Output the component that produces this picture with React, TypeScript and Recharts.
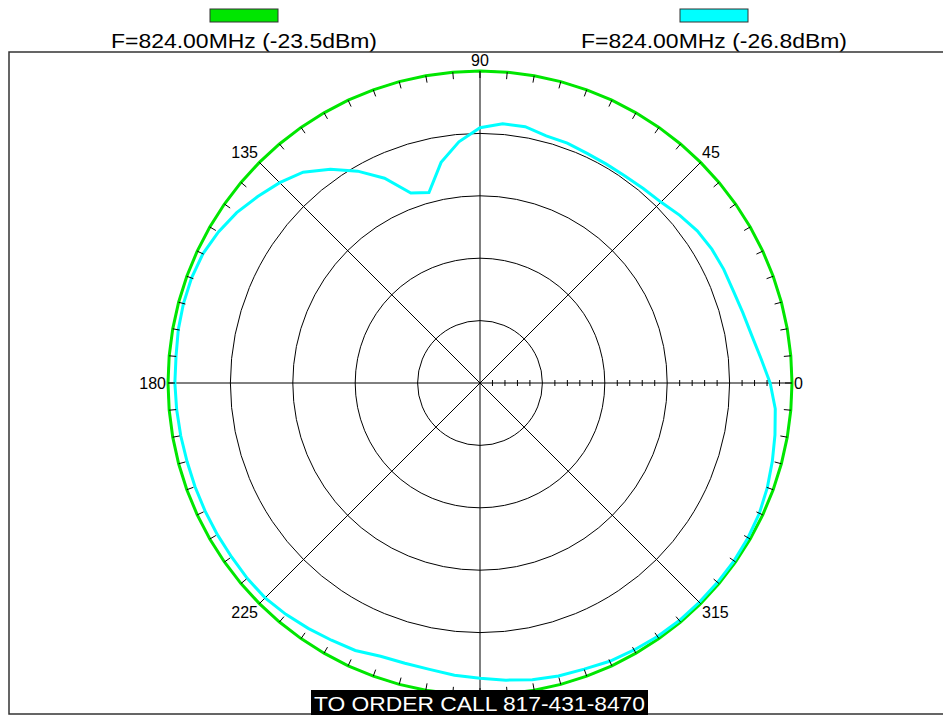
import {Legend, PolarAngleAxis, PolarGrid, PolarRadiusAxis, Radar, RadarChart} from "recharts";

// angle categories, degrees counter-clockwise from the right
const angles = [
    0, 5, 10, 15, 20, 25, 30, 35, 40, 45, 50, 55,
    60, 65, 70, 75, 80, 85, 90, 95, 100, 105, 110, 115,
    120, 125, 130, 135, 140, 145, 150, 155, 160, 165, 170, 175,
    180, 185, 190, 195, 200, 205, 210, 215, 220, 225, 230, 235,
    240, 245, 250, 255, 260, 265, 270, 275, 280, 285, 290, 295,
    300, 305, 310, 315, 320, 325, 330, 335, 340, 345, 350, 355,
];

// green trace: sits on the outer ring all the way round
const refTrace = [
    50, 50, 50, 50, 50, 50, 50, 50, 50, 50, 50, 50,
    50, 50, 50, 50, 50, 50, 50, 50, 50, 50, 50, 50,
    50, 50, 50, 50, 50, 50, 50, 50, 50, 50, 50, 50,
    50, 50, 50, 50, 50, 50, 50, 50, 50, 50, 50, 50,
    50, 50, 50, 50, 50, 50, 50, 50, 50, 50, 50, 50,
    50, 50, 50, 50, 50, 50, 50, 50, 50, 50, 50, 50,
];

// cyan trace (0..50 radial units)
const measTrace = [
    46.5, 45.2, 44.2, 43.6, 43.2, 43.1, 42.9, 42.5, 41.8, 41.0, 40.7, 40.5,
    40.5, 40.6, 40.9, 41.0, 41.7, 41.7, 40.9, 38.8, 35.9, 31.6, 32.4, 36.2,
    39.2, 41.8, 44.1, 45.4, 46.5, 47.6, 48.4, 49.0, 49.2, 49.2, 49.1, 48.9,
    48.9, 48.8, 48.7, 48.6, 48.6, 48.6, 48.6, 48.6, 48.7, 48.7, 48.4, 48.0,
    47.6, 47.3, 46.6, 46.5, 46.6, 47.0, 47.3, 47.8, 48.3, 48.6, 48.8, 49.2,
    49.4, 49.6, 49.7, 49.7, 49.7, 49.7, 49.6, 49.4, 49.0, 48.5, 48.0, 47.5,
];

const spokeAngles = [0, 45, 90, 135, 180, 225, 270, 315];
const labelAngles = [0, 45, 90, 135, 180, 225, 315];
const seriesNames = ['F=824.00MHz (-23.5dBm)', 'F=824.00MHz (-26.8dBm)'];
const orderText = 'TO ORDER CALL 817-431-8470';

const GREEN = '#00e600';
const CYAN = '#00ffff';
const W = 943;
const H = 717;
const CX = 480;
const CY = 383;
const OUTER = 312;
const FONT = '"Liberation Sans", Arial, sans-serif';

const data = angles.map((a, i) => ({angle: a, ref: refTrace[i], meas: measTrace[i]}));

function AngleTick(props: any) {
    const {payload} = props;
    const v = Number(payload.value);
    if (!labelAngles.includes(v)) return <g/>;
    const deg = payload.coordinate ?? v;
    const a = deg * Math.PI / 180;
    const r = OUTER + 2;
    const c = Math.cos(a);
    const s = Math.sin(a);
    const anchor = c > 0.1 ? 'start' : c < -0.1 ? 'end' : 'middle';
    const dy = s > 0.1 ? -3 : s < -0.1 ? 13 : 6;
    return (
        <text x={CX + r * c} y={CY - r * s} dy={dy} textAnchor={anchor}
              fontSize={16} fontFamily={FONT} fill="#000">{v}</text>
    );
}

function MinorTick(props: any) {
    const {x, y, payload} = props;
    if (payload.value % 10 === 0) return <g/>;
    return <line x1={x} y1={y - 3} x2={x} y2={y + 3} stroke="#000" strokeWidth={1}/>;
}

function renderLegend(props: any) {
    const items = props.payload ?? [];
    const centers = [244, 714];
    return (
        <svg width={W} height={52} style={{display: 'block'}}>
            {items.map((it: any, i: number) => (
                <g key={i}>
                    <rect x={centers[i] - 34} y={9} width={68} height={13} fill={it.color}
                          stroke="#333" strokeWidth={1}/>
                    <text x={centers[i] - 133} y={48} textLength={266} lengthAdjust="spacingAndGlyphs"
                          fontSize={21} fontFamily={FONT} fill="#000">{it.value}</text>
                </g>
            ))}
        </svg>
    );
}

export default function App() {
    return (
        <div style={{position: 'absolute', left: 0, top: 0, width: W, height: H, background: '#fff'}}>
            <RadarChart width={W} height={H} data={data} cx={CX} cy={CY} outerRadius={OUTER}
                        startAngle={0} endAngle={360} margin={{top: 0, right: 0, bottom: 0, left: 0}}>
                <PolarGrid gridType="circle" polarAngles={spokeAngles} stroke="#000" strokeWidth={1}/>
                <PolarAngleAxis dataKey="angle" type="number" domain={[0, 360]} tickCount={73}
                                orientation="inner" tickSize={7}
                                axisLine={false} tickLine={{stroke: '#000'}} stroke="#000" tick={AngleTick}/>
                <PolarRadiusAxis angle={0} domain={[0, 50]} tickCount={6} type="number"
                                 axisLine={false} tick={false}/>
                <PolarRadiusAxis radiusAxisId="minor" angle={0} domain={[0, 50]} tickCount={26} type="number"
                                 axisLine={false} tick={MinorTick}/>
                <Radar dataKey="ref" radiusAxisId="minor" name={seriesNames[0]} stroke={GREEN} strokeWidth={3}
                       fill="none" fillOpacity={0} dot={false} isAnimationActive={false}/>
                <Radar dataKey="meas" name={seriesNames[1]} stroke={CYAN} strokeWidth={3} fill="none"
                       fillOpacity={0} dot={false} isAnimationActive={false}/>
                <Legend verticalAlign="top" content={renderLegend}
                        wrapperStyle={{position: 'absolute', top: 0, left: 0, width: W, height: 52}}/>
            </RadarChart>
            <svg width={W} height={H} style={{position: 'absolute', left: 0, top: 0, pointerEvents: 'none'}}>
                <rect x={9} y={52} width={W + 10} height={662} fill="none" stroke="#333" strokeWidth={1.5}/>
                <rect x={311} y={690} width={337} height={25} fill="#000"/>
                <text x={314} y={711} textLength={331} lengthAdjust="spacingAndGlyphs"
                      fontSize={21} fontFamily={FONT} fill="#fff">{orderText}</text>
            </svg>
        </div>
    );
}
